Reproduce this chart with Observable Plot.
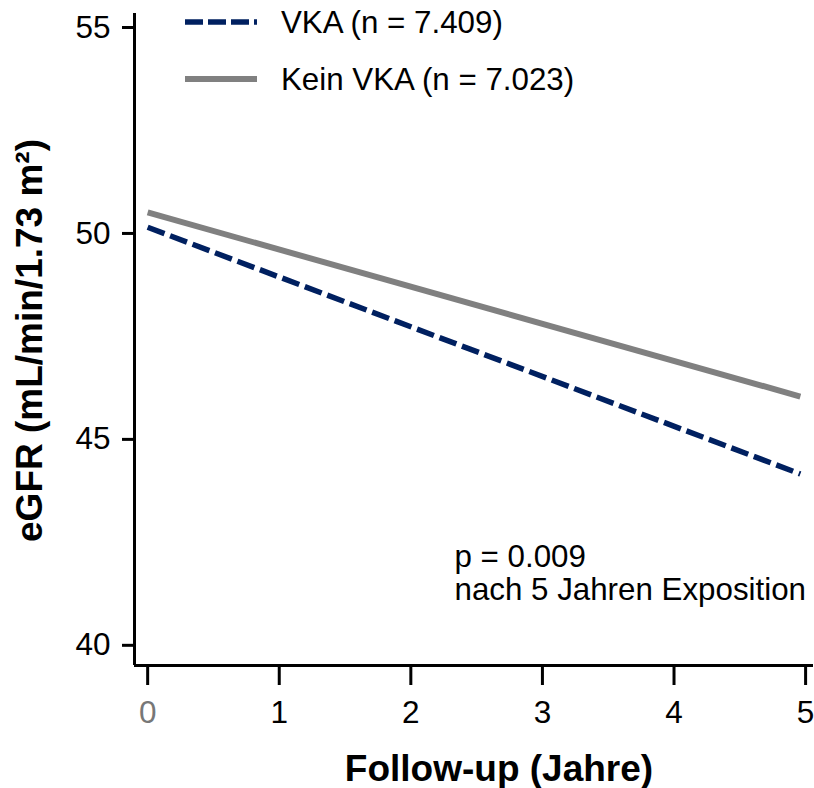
<!DOCTYPE html>
<html>
<head>
<meta charset="utf-8">
<script src="https://cdn.jsdelivr.net/npm/d3@7"></script>
<script src="https://cdn.jsdelivr.net/npm/@observablehq/plot@0.6"></script>
<style>
  html, body { margin: 0; padding: 0; background: white; }
  #wrap { position: relative; width: 814px; height: 788px; font-family: "Liberation Sans", Arial, sans-serif; }
  #legend { position: absolute; left: 0; top: 0; pointer-events: none; }
</style>
</head>
<body>
<div id="wrap"></div>
<script>
// ---- data ----
const years = [0, 4.96];
const vkaValues = [50.15, 44.16];
const keinVkaValues = [50.51, 46.04];
const seriesNames = ["VKA (n = 7.409)", "Kein VKA (n = 7.023)"];
const seriesColors = ["#002060", "#808080"];
const xTicks = [0, 1, 2, 3, 4, 5];
const yTicks = [40, 45, 50, 55];
const xDomain = [-0.1, 5.06];
const yDomain = [39.51, 55.34];
const xLabel = "Follow-up (Jahre)";
const yLabel = "eGFR (mL/min/1.73 m\u00B2)";
const annotation = ["p = 0.009", "nach 5 Jahren Exposition"];

const vkaRows = years.map((t, i) => ({year: t, value: vkaValues[i]}));
const keinRows = years.map((t, i) => ({year: t, value: keinVkaValues[i]}));

const font = "Liberation Sans, Arial, sans-serif";
const fmt = d => String(d);

const chart = Plot.plot({
  width: 814,
  height: 788,
  marginLeft: 134,
  marginRight: 1,
  marginTop: 13,
  marginBottom: 123,
  style: {fontFamily: font, background: "white", color: "black", overflow: "visible"},
  x: {domain: xDomain},
  y: {domain: yDomain},
  marks: [
    Plot.axisY({ticks: yTicks, tickFormat: fmt, tickSize: 12, tickPadding: 12, fontSize: 31.5, strokeWidth: 3, label: null}),
    Plot.axisX({ticks: xTicks.filter(t => t !== 0), tickFormat: fmt, tickSize: 20, tickPadding: 15, fontSize: 31.5, strokeWidth: 3, label: null}),
    Plot.axisX({ticks: xTicks.filter(t => t === 0), tickFormat: fmt, tickSize: 20, tickPadding: 15, fontSize: 31.5, strokeWidth: 3, fill: "#777", stroke: "black", label: null}),
    Plot.ruleX([xDomain[0]], {stroke: "black", strokeWidth: 3}),
    Plot.ruleY([yDomain[0]], {stroke: "black", strokeWidth: 3}),
    Plot.line(keinRows, {x: "year", y: "value", stroke: seriesColors[1], strokeWidth: 6, strokeLinecap: "butt"}),
    Plot.line(vkaRows, {x: "year", y: "value", stroke: seriesColors[0], strokeWidth: 5.5, strokeDasharray: "18,6", strokeLinecap: "butt"}),
    Plot.text([annotation.join("\n")], {frameAnchor: "top-left", textAnchor: "start", lineAnchor: "top", dx: 320, dy: 529, fontSize: 31.3, lineHeight: 1.08, fill: "black"}),
    Plot.text([xLabel], {frameAnchor: "bottom", textAnchor: "middle", lineAnchor: "top", dx: 25, dy: 89, fontSize: 37, fontWeight: "bold", fill: "black"}),
    Plot.text([yLabel], {frameAnchor: "left", rotate: -90, textAnchor: "middle", lineAnchor: "middle", dx: -104, dy: 1, fontSize: 37, fontWeight: "bold", fill: "black"})
  ]
});

const wrap = document.getElementById("wrap");
wrap.appendChild(chart);

// legend overlay
const ns = "http://www.w3.org/2000/svg";
const leg = document.createElementNS(ns, "svg");
leg.setAttribute("id", "legend");
leg.setAttribute("width", 814);
leg.setAttribute("height", 120);
const legY = [22, 79];
seriesNames.forEach((name, i) => {
  const ln = document.createElementNS(ns, "line");
  ln.setAttribute("x1", 185); ln.setAttribute("x2", 257);
  ln.setAttribute("y1", legY[i]); ln.setAttribute("y2", legY[i]);
  ln.setAttribute("stroke", seriesColors[i]);
  ln.setAttribute("stroke-width", i === 0 ? 5.5 : 6);
  if (i === 0) ln.setAttribute("stroke-dasharray", "18,5");
  leg.appendChild(ln);
  const tx = document.createElementNS(ns, "text");
  tx.setAttribute("x", 281);
  tx.setAttribute("y", legY[i] + 11);
  tx.setAttribute("font-size", 31.3);
  tx.setAttribute("font-family", font);
  tx.setAttribute("fill", "black");
  tx.textContent = name;
  leg.appendChild(tx);
});
wrap.appendChild(leg);
</script>
</body>
</html>
